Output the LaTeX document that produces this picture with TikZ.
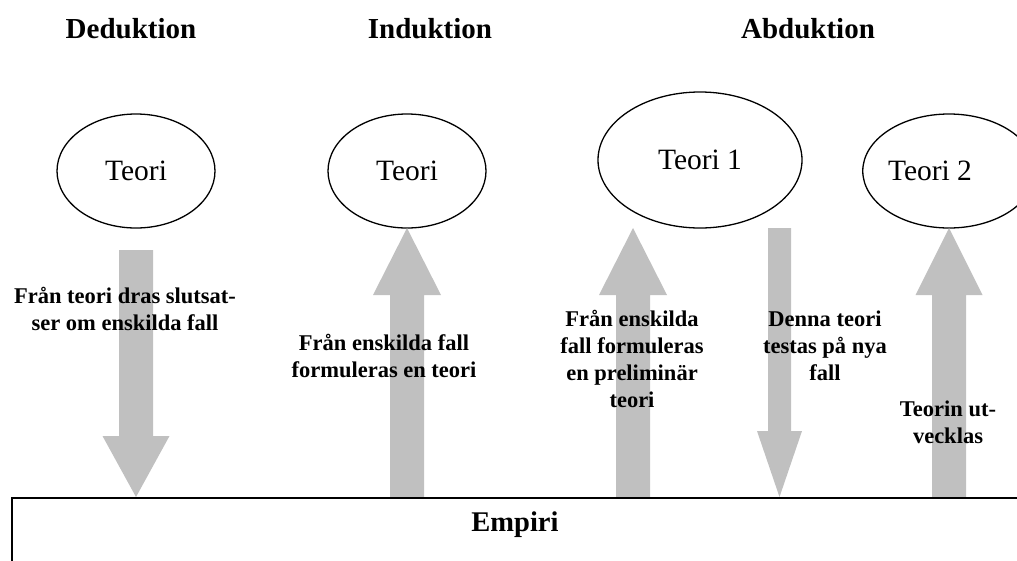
\documentclass[tikz,border=0pt]{standalone}
\usepackage{fontspec}
\setmainfont{Liberation Serif}
\usetikzlibrary{shapes.geometric}
\definecolor{arrowgray}{RGB}{192,192,192}
\tikzset{
  heading/.style={font=\bfseries\fontsize{29}{34}\selectfont},
  teori/.style={draw, ellipse, line width=1.3pt, inner sep=0pt,
    font=\fontsize{29.5}{34}\selectfont},
  caption/.style={align=center, font=\bfseries\fontsize{22.5}{27}\selectfont},
  arrowfill/.style={fill=arrowgray},
}
% vertical block arrow: x, tail y, head-base y, tip y, shaft half-width, head half-width
\newcommand\blockarrow[6]{%
  \fill[arrowfill] ({#1-#5},#2) -- ({#1+#5},#2) -- ({#1+#5},#3) -- ({#1+#6},#3)
    -- (#1,#4) -- ({#1-#6},#3) -- ({#1-#5},#3) -- cycle;}
\begin{document}
\begin{tikzpicture}[x=1pt,y=-1pt]
\useasboundingbox (0,0) rectangle (1017,560);
\clip (0,0) rectangle (1017,560);

% headings
\node[heading] (hded) at (131,29) {Deduktion};
\node[heading] (hind) at (430,29) {Induktion};
\node[heading] (habd) at (808,29) {Abduktion};

% theory ellipses
\node[teori, minimum width=158, minimum height=114] (t0) at (136,171) {Teori};
\node[teori, minimum width=158, minimum height=114] (t1) at (407,171) {Teori};
\node[teori, minimum width=204, minimum height=136] (ta) at (700,160) {Teori 1};
\node[teori, minimum width=160, minimum height=114] (tb) at (949,171) {Teori 2\hspace*{38pt}};

% block arrows
\blockarrow{136}{250}{436}{497}{17}{33.5}
\blockarrow{407}{497}{295}{228}{17}{34}
\blockarrow{633}{497}{295}{228}{17}{34}
\blockarrow{779.5}{228}{431}{497}{11.5}{22.5}
\blockarrow{949}{497}{295}{228}{17}{33.5}

% empirical base
\draw[line width=1.3pt] (12,498) rectangle (1040,600);
\node[font=\bfseries\fontsize{28.5}{33}\selectfont] (emp) at (515,525) {Empiri};

% arrow captions
\node[caption] (c0) at (125,309) {Från teori dras slutsat-\\ser om enskilda fall};
\node[caption] (c1) at (384,356) {Från enskilda fall\\formuleras en teori};
\node[caption] (c2) at (632,359) {Från enskilda\\fall formuleras\\en preliminär\\teori};
\node[caption] (c3) at (825,346) {Denna teori\\testas på nya\\fall};
\node[caption] (c4) at (948,422) {Teorin ut-\\vecklas};
\end{tikzpicture}
\end{document}
